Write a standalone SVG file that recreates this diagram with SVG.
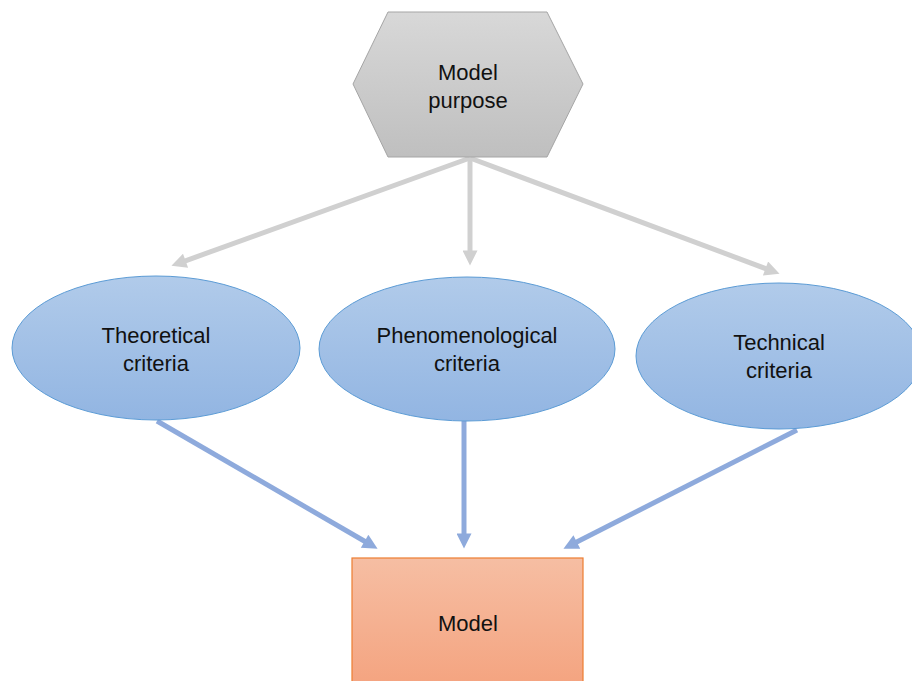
<svg xmlns="http://www.w3.org/2000/svg" width="912" height="681" viewBox="0 0 912 681">
  <style>
    .label { font-family: "Liberation Sans", Arial, sans-serif; font-size: 22px; fill: #111; text-anchor: middle; }
    .ell { fill: url(#blueGrad); stroke: #5b9bd5; stroke-width: 1; }
    .gray { stroke: #d0d0d0; stroke-width: 5; fill: none; }
    .blue { stroke: #8eaadc; stroke-width: 5; fill: none; }
  </style>
  <defs>
    <linearGradient id="grayGrad" x1="0" y1="0" x2="0" y2="1">
      <stop offset="0" stop-color="#d8d8d8"/>
      <stop offset="1" stop-color="#bfbfbf"/>
    </linearGradient>
    <linearGradient id="blueGrad" x1="0" y1="0" x2="0" y2="1">
      <stop offset="0" stop-color="#b1cbea"/>
      <stop offset="1" stop-color="#92b5e2"/>
    </linearGradient>
    <linearGradient id="orangeGrad" x1="0" y1="0" x2="0" y2="1">
      <stop offset="0" stop-color="#f6bea3"/>
      <stop offset="1" stop-color="#f4a37f"/>
    </linearGradient>
    <!-- heads: tip sits 11px past the end of the line -->
    <marker id="arrGray" viewBox="0 0 10 10" refX="3" refY="5" markerUnits="userSpaceOnUse" markerWidth="16" markerHeight="15" orient="auto">
      <path d="M0,0 L10,5 L0,10 Z" fill="#d0d0d0"/>
    </marker>
    <marker id="arrBlue" viewBox="0 0 10 10" refX="3" refY="5" markerUnits="userSpaceOnUse" markerWidth="16" markerHeight="15" orient="auto">
      <path d="M0,0 L10,5 L0,10 Z" fill="#8eaadc"/>
    </marker>
  </defs>

  <rect width="912" height="681" fill="#ffffff"/>

  <!-- connectors -->
  <g id="connectors">
    <line class="gray" x1="470" y1="158" x2="181.3" y2="262.3" marker-end="url(#arrGray)"/>
    <line class="gray" x1="470" y1="158" x2="470" y2="255" marker-end="url(#arrGray)"/>
    <line class="gray" x1="470" y1="158" x2="769.7" y2="270.1" marker-end="url(#arrGray)"/>
    <line class="blue" x1="157" y1="421" x2="368.5" y2="543.5" marker-end="url(#arrBlue)"/>
    <line class="blue" x1="464" y1="421" x2="464" y2="538" marker-end="url(#arrBlue)"/>
    <line class="blue" x1="797" y1="430" x2="572.8" y2="544" marker-end="url(#arrBlue)"/>
  </g>

  <g id="model-purpose">
    <polygon points="388,12 547,12 583,84 547,157 388,157 353,84" fill="url(#grayGrad)" stroke="#a5a5a5" stroke-width="1"/>
    <text class="label" x="468" y="80">Model</text>
    <text class="label" x="468" y="108">purpose</text>
  </g>

  <g id="theoretical">
    <ellipse class="ell" cx="156" cy="348" rx="144" ry="72"/>
    <text class="label" x="156" y="343">Theoretical</text>
    <text class="label" x="156" y="371">criteria</text>
  </g>

  <g id="phenomenological">
    <ellipse class="ell" cx="467" cy="349" rx="148" ry="72"/>
    <text class="label" x="467" y="343">Phenomenological</text>
    <text class="label" x="467" y="371">criteria</text>
  </g>

  <g id="technical">
    <ellipse class="ell" cx="779" cy="356" rx="143" ry="73"/>
    <text class="label" x="779" y="350">Technical</text>
    <text class="label" x="779" y="378">criteria</text>
  </g>

  <g id="model">
    <rect x="352" y="558" width="231" height="130" fill="url(#orangeGrad)" stroke="#ed7d31" stroke-width="1.2"/>
    <text class="label" x="468" y="631">Model</text>
  </g>
</svg>
